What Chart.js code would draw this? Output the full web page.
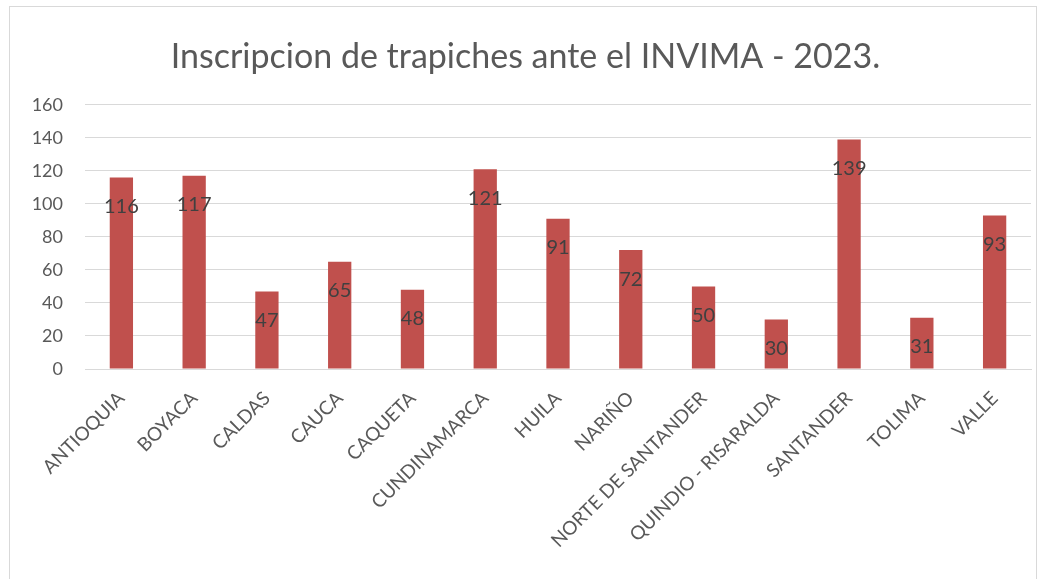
<!DOCTYPE html>
<html>
<head>
<meta charset="utf-8">
<script src="https://cdn.jsdelivr.net/npm/chart.js@4.4.0/dist/chart.umd.min.js"></script>
<style>
  html, body { margin: 0; padding: 0; background: #fff; overflow: hidden; }
  #frame { position: absolute; left: 9px; top: 6px; width: 1026px; height: 600px; border: 1px solid #d9d9d9; }
  #barChart { position: absolute; left: 0; top: 0; }
</style>
</head>
<body>
<div id="frame"></div>
<canvas id="barChart" width="1050" height="579"></canvas>
<script>
// chart data
var departamentos = ['ANTIOQUIA', 'BOYACA', 'CALDAS', 'CAUCA', 'CAQUETA', 'CUNDINAMARCA', 'HUILA',
    'NARIÑO', 'NORTE DE SANTANDER', 'QUINDIO - RISARALDA', 'SANTANDER', 'TOLIMA', 'VALLE'];
var trapiches = [116, 117, 47, 65, 48, 121, 91, 72, 50, 30, 139, 31, 93];
var yTicks = [0, 20, 40, 60, 80, 100, 120, 140, 160];
var chartTitle = 'Inscripcion de trapiches ante el INVIMA - 2023.';

// labels drawn a bit below the top of each bar (like the excel "inside end")
var valueLabels = {
    id: 'valueLabels',
    afterDatasetsDraw: function (chart) {
        var ctx = chart.ctx;
        var meta = chart.getDatasetMeta(0);
        ctx.save();
        ctx.font = '20px Lato';
        ctx.fillStyle = '#404040';
        ctx.textAlign = 'center';
        ctx.textBaseline = 'middle';
        meta.data.forEach(function (bar, i) {
            ctx.fillText(trapiches[i], bar.x, bar.y + 29);
        });
        ctx.restore();
    }
};

const ctx = document.getElementById('barChart');
var myChart = new Chart(ctx, {
    type: 'bar',
    data: {
        labels: departamentos,
        datasets: [{
            label: 'Trapiches',
            data: trapiches,
            backgroundColor: '#C0504D',
            borderWidth: 0,
            barPercentage: 0.32,
            categoryPercentage: 1
        }]
    },
    options: {
        responsive: false,
        animation: false,
        layout: {
            padding: { left: 20, right: 19, top: 9, bottom: 0 }
        },
        scales: {
            y: {
                min: 0,
                max: 160,
                afterBuildTicks: function (axis) {
                    axis.ticks = yTicks.map(function (v) { return { value: v }; });
                },
                afterFit: function (axis) {
                    axis.width = 65;
                },
                ticks: {
                    color: '#595959',
                    font: { family: 'Lato', size: 18 },
                    padding: 22
                },
                grid: {
                    color: '#d9d9d9',
                    lineWidth: 1,
                    drawTicks: false
                },
                border: { display: false }
            },
            x: {
                afterFit: function (axis) {
                    axis.height = 210;
                },
                ticks: {
                    color: '#595959',
                    font: { family: 'Lato', size: 19 },
                    minRotation: 45,
                    maxRotation: 45,
                    autoSkip: false,
                    padding: 10
                },
                grid: { display: false },
                border: { color: '#d9d9d9', width: 1 }
            }
        },
        plugins: {
            legend: { display: false },
            tooltip: { enabled: false },
            title: {
                display: true,
                text: chartTitle,
                color: '#595959',
                font: { family: 'Lato', size: 34, weight: 'normal', lineHeight: 1.2 },
                padding: { top: 28, bottom: 27 }
            }
        }
    },
    plugins: [valueLabels]
});
</script>
</body>
</html>
